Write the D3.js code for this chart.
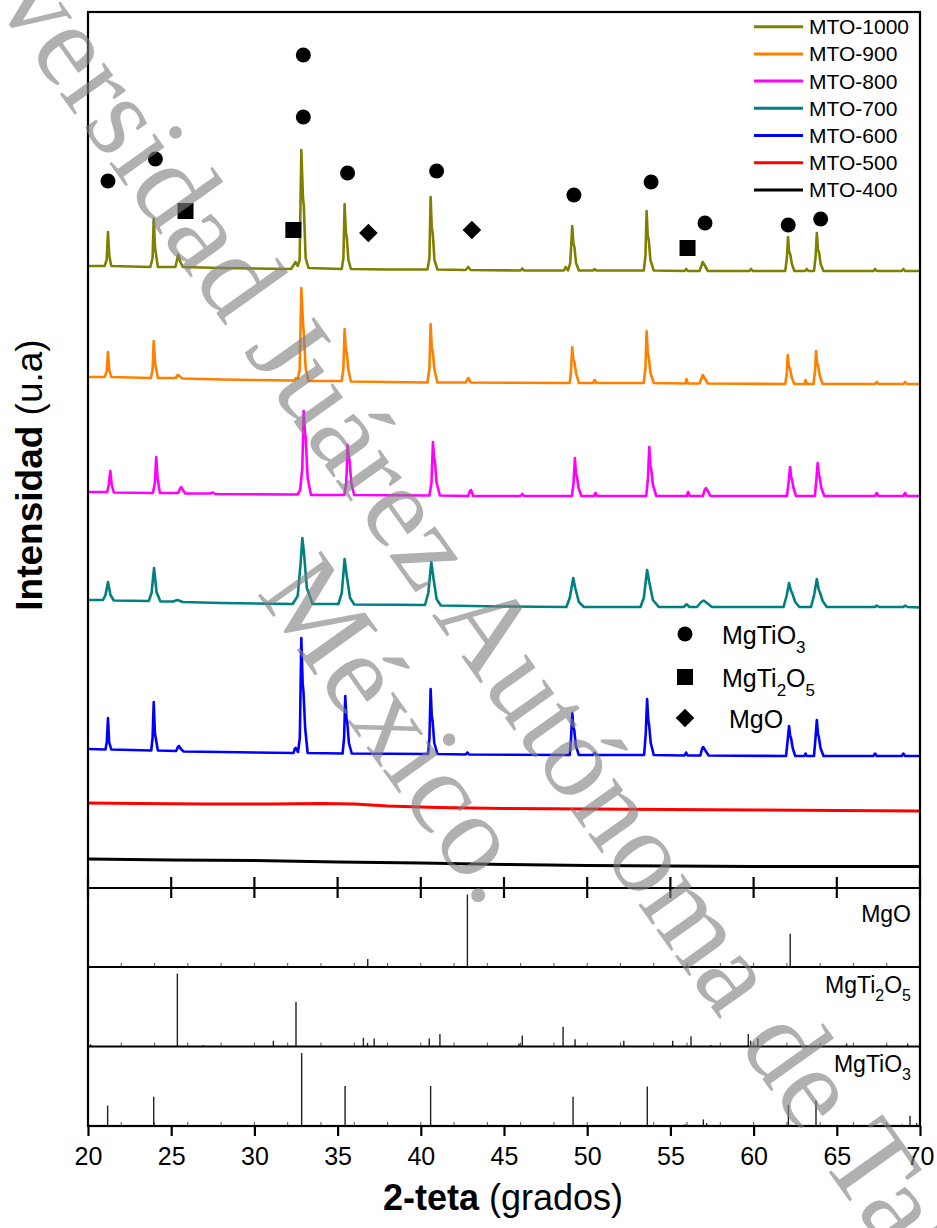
<!DOCTYPE html>
<html>
<head>
<meta charset="utf-8">
<script src="https://cdn.jsdelivr.net/npm/d3@7"></script>
<style>
  body { margin: 0; background: #fff; }
  svg { display: block; }
</style>
</head>
<body>
<div id="chart"></div>
<script>
// main traces: [2theta, intensity (a.u., stacked)]
const mto1000 = [[20,622],[21.0,622],[21.12,628],[21.2,656],[21.28,632],[21.4,622],
  [23.75,621],[23.88,630],[23.95,669],[24.03,640],[24.2,621],
  [25.25,621],[25.35,628],[25.42,633],[25.55,626],[25.7,621],
  [28,620],[32.2,619],[32.4,624],[32.47,626],[32.6,622],[32.72,628],[32.82,738],[32.92,690],[32.97,682],[33.08,630],[33.25,620],
  [35.25,619],[35.35,630],[35.42,684],[35.5,655],[35.55,651],[35.65,628],[35.8,619],
  [38,618.5],[40.4,618.5],[40.52,630],[40.59,691],[40.66,660],[40.72,655],[40.82,628],[41.0,618.5],
  [42.7,618],[42.85,621],[43,618],[46.0,617.5],[46.1,619.5],[46.2,617.5],[48.6,617.5],[48.7,621],[48.85,617.5],
  [48.98,625],[49.1,662],[49.17,645],[49.23,641],[49.33,625],[49.5,617.5],
  [50.35,617.5],[50.45,619],[50.55,617.5],
  [53.4,617.5],[53.5,632],[53.57,677],[53.64,652],[53.7,648],[53.8,628],[54.0,617.5],
  [55.85,617],[55.95,619],[56.05,617],[56.75,617],[56.88,623],[56.94,626],[57.05,623],[57.25,617],
  [59.75,617],[59.85,619],[59.95,617],
  [61.9,617],[62.0,630],[62.07,651],[62.14,636],[62.2,634],[62.3,624],[62.45,617],
  [63.1,617],[63.2,619],[63.3,617],
  [63.63,617],[63.73,632],[63.8,655],[63.87,638],[63.93,636],[64.03,624],[64.2,617],
  [67.2,617],[67.3,619],[67.4,617],[68.9,617],[69.0,619],[69.1,617],[70,617]];

const mto900 = [[20,511],[21.0,511],[21.12,516],[21.2,536],[21.28,518],[21.4,511],
  [23.78,510],[23.88,518],[23.95,547],[24.03,525],[24.2,510],
  [25.28,510],[25.38,513],[25.42,513],[25.55,511],[25.7,509.5],
  [28,508.5],[32.4,507.5],[32.5,510],[32.6,509],[32.72,518],[32.82,600],[32.92,565],[32.97,555],[33.08,520],[33.25,507],
  [35.25,507],[35.35,520],[35.42,559],[35.5,538],[35.55,535],[35.65,518],[35.8,506.5],
  [38,506],[40.4,505.5],[40.52,520],[40.59,564],[40.66,540],[40.72,536],[40.82,518],[41.0,505.5],
  [42.7,505.5],[42.85,510],[43,505.5],
  [48.95,505],[49.02,515],[49.1,541],[49.17,528],[49.23,526],[49.33,515],[49.5,505],
  [50.35,505],[50.45,508],[50.55,505],
  [53.4,505],[53.5,520],[53.57,557],[53.64,535],[53.7,531],[53.8,515],[54.0,505],
  [55.9,504.5],[55.97,509],[56.05,504.5],[56.75,504.5],[56.88,510],[56.95,513],[57.05,510],[57.25,504.5],
  [61.9,504],[62.0,515],[62.05,533],[62.12,522],[62.18,520],[62.3,510],[62.45,504],
  [63.05,504],[63.12,508],[63.2,504],
  [63.6,504],[63.7,518],[63.75,537],[63.82,525],[63.88,522],[63.98,512],[64.15,504],
  [67.3,504],[67.4,506],[67.5,504],[69,504],[69.1,506],[69.2,504],[70,504]];

const mto800 = [[20,396],[21.15,396],[21.25,403],[21.34,417],[21.43,403],[21.55,395.5],
  [23.9,395],[24.02,405],[24.1,431],[24.18,410],[24.32,395],
  [25.42,395],[25.52,399],[25.6,401],[25.7,398],[25.85,394.5],
  [27.35,394.5],[27.5,395.5],[27.65,394],
  [32.6,393.5],[32.75,398],[32.88,420],[32.96,477],[33.04,455],[33.08,451],[33.2,410],[33.4,393],
  [35.4,393],[35.52,405],[35.6,443],[35.67,432],[35.72,428],[35.82,405],[36.0,393],
  [40.52,392.5],[40.64,405],[40.73,446],[40.8,430],[40.85,426],[40.95,405],[41.15,392.5],
  [42.85,392],[42.95,397],[43.02,398],[43.15,392],
  [46.0,392],[46.1,394],[46.2,392],
  [49.08,392],[49.18,405],[49.26,430],[49.33,414],[49.38,412],[49.48,400],[49.65,392],
  [50.4,392],[50.5,395],[50.6,392],
  [53.55,392],[53.65,410],[53.73,441],[53.8,422],[53.85,419],[53.95,403],[54.15,392],
  [55.98,392],[56.07,396],[56.16,392],
  [56.95,392],[57.06,398],[57.14,400],[57.25,397],[57.4,392],
  [62.0,392],[62.1,405],[62.19,421],[62.26,411],[62.3,409],[62.4,400],[62.55,392],
  [63.68,392],[63.77,408],[63.85,425],[63.92,413],[63.97,411],[64.07,400],[64.25,392],
  [67.3,392],[67.4,395],[67.5,392],[69.0,392],[69.1,395],[69.2,392],[70,392]];

const mto700 = [[20,288],[20.9,288],[21.05,293],[21.2,306],[21.35,293],[21.55,287.5],
  [23.65,287],[23.82,295],[23.97,320],[24.12,296],[24.35,286.5],
  [25.1,286.5],[25.37,288],[25.7,286],
  [28,285],[32.3,284],[32.6,292],[32.78,325],[32.88,350],[32.98,335],[33.15,300],[33.5,284],
  [35.05,284],[35.25,295],[35.42,329],[35.55,312],[35.75,290],[36.0,283.5],
  [40.25,283],[40.45,295],[40.63,326],[40.76,310],[40.95,289],[41.2,282.5],
  [45,281.5],[48.75,281],[48.95,290],[49.16,310],[49.28,300],[49.5,286],[49.8,281],
  [53.2,281],[53.4,290],[53.6,318],[53.73,306],[53.95,288],[54.3,281],
  [55.8,281],[55.97,283.7],[56.15,281],[56.6,281],[56.85,286],[57.0,287.5],[57.2,285],[57.5,281],
  [61.8,281],[61.98,292],[62.13,305],[62.25,297],[62.32,295],[62.5,286],[62.75,281],
  [63.45,281],[63.65,294],[63.8,309],[63.92,298],[63.98,296],[64.15,287],[64.4,281],
  [67.3,281],[67.4,282.5],[67.55,281],[69,281],[69.1,282.5],[69.25,281],[70,280.5]];

const mto600 = [[20,139],[21.05,138.5],[21.13,146],[21.2,170],[21.27,146],[21.4,138.5],
  [23.8,137.5],[23.88,150],[23.95,186],[24.02,155],[24.2,137.5],
  [25.3,137],[25.4,141],[25.47,142],[25.58,139],[25.75,136.5],
  [28,136],[32.35,135],[32.42,139],[32.48,140],[32.62,136],[32.73,150],[32.82,250],[32.9,205],[32.95,196],[33.05,160],[33.2,135],
  [35.3,134.5],[35.39,150],[35.46,192],[35.53,170],[35.58,166],[35.68,145],[35.85,134.5],
  [40.44,134],[40.52,150],[40.59,199],[40.66,172],[40.71,167],[40.81,145],[41.0,134],
  [42.7,133.5],[42.8,135.5],[42.9,133.5],
  [48.95,133],[49.03,150],[49.1,175],[49.17,161],[49.22,158],[49.32,142],[49.5,133],
  [50.35,133],[50.45,135],[50.55,133],
  [53.42,133],[53.52,155],[53.6,189],[53.67,168],[53.72,163],[53.82,145],[54.0,133],
  [55.85,132.5],[55.94,135.5],[56.03,132.5],[56.8,132.5],[56.9,139],[56.97,141],[57.08,138],[57.3,132.5],
  [61.95,132],[62.05,148],[62.13,162],[62.2,152],[62.25,150],[62.35,140],[62.5,132],
  [63.05,132],[63.12,134.5],[63.2,132],
  [63.63,132],[63.72,150],[63.8,168],[63.87,154],[63.92,151],[64.02,140],[64.2,132],
  [67.2,132],[67.3,134.5],[67.4,132],[68.9,132],[69.0,134.5],[69.1,132],[70,132]];

const mto500 = [[20,85],[23,84.5],[27,84],[31,84],[34,84.5],[36,84],[38,82],[41,80.5],
  [45,79.5],[50,79],[55,78.5],[60,78],[65,77.5],[70,77]];

const mto400 = [[20,29],[25,28],[30,27.5],[35,26],[40,25],[45,23.5],[50,22.5],
  [55,22],[60,21.5],[65,21.5],[70,21.5]];

const seriesNames = ["MTO-1000", "MTO-900", "MTO-800", "MTO-700", "MTO-600", "MTO-500", "MTO-400"];
const seriesData = [mto1000, mto900, mto800, mto700, mto600, mto500, mto400];
const seriesColors = ["#808000", "#ff8000", "#ff00ff", "#008080", "#0000ff", "#ff0000", "#000000"];

// phase markers above the MTO-1000 pattern: [2theta, intensity]
const circleMarks = [[21.2,707],[24.05,729],[32.94,833],[32.94,771],[35.6,715],[40.95,717],
  [49.2,693],[53.84,706],[57.08,665],[62.08,663],[64.03,669]];
const squareMarks = [[25.86,677],[32.34,658],[56.03,640]];
const diamondMarks = [[36.85,655],[43.07,658]];

// reference patterns: [2theta, relative intensity]
const mgoRef = [[36.81,11],[42.8,100],[62.2,46]];
const mgti2o5Ref = [[20.16,3],[25.37,100],[26.93,2],[31.14,8],[32.5,61],[36.55,12],[36.8,5],[37.2,11],
  [40.51,11],[41.15,17],[45.9,4],[46.1,15],[48.55,27],[49.27,10],[52.2,8],[55.14,8],[56.24,14],
  [57.44,2],[59.68,17],[59.82,8],[60.26,11],[65.59,4],[68.0,2],[69.26,4]];
const mgtio3Ref = [[21.18,28],[23.95,40],[32.84,100],[35.45,55],[40.59,55],[49.15,40],[53.61,54],
  [55.88,2],[56.98,9],[57.18,4],[62.09,29],[63.75,35],[68.9,2],[69.4,14],[69.8,4]];

const xTicks = [20, 25, 30, 35, 40, 45, 50, 55, 60, 65, 70];

const W = 937, H = 1228;
const plotLeft = 88, plotRight = 920, plotTop = 12, mainBottom = 888;
const panelEdges = [888, 967, 1046.5, 1126];
const font = "'Liberation Sans', Arial, sans-serif";

const svg = d3.select("#chart").append("svg")
  .attr("width", W)
  .attr("height", H)
  .style("font-family", font);

const x = d3.scaleLinear().domain([20, 70]).range([plotLeft, plotRight]);
const y = d3.scaleLinear().domain([0, 876]).range([mainBottom, plotTop]);

// traces
const line = d3.line().x(d => x(d[0])).y(d => y(d[1]));
seriesData.forEach(function (data, i) {
  svg.append("path")
    .datum(data)
    .attr("d", line)
    .attr("fill", "none")
    .attr("stroke", seriesColors[i])
    .attr("stroke-width", i >= 5 ? 3 : 2.6)
    .attr("stroke-linejoin", "round");
});

// phase markers
svg.selectAll(".circ").data(circleMarks).enter().append("circle")
  .attr("cx", d => x(d[0])).attr("cy", d => y(d[1])).attr("r", 7.5).attr("fill", "#000");
svg.selectAll(".sq").data(squareMarks).enter().append("rect")
  .attr("x", d => x(d[0]) - 8).attr("y", d => y(d[1]) - 8)
  .attr("width", 16).attr("height", 16).attr("fill", "#000");
svg.selectAll(".dia").data(diamondMarks).enter().append("path")
  .attr("d", d3.symbol().type(d3.symbolDiamond2).size(220))
  .attr("transform", d => "translate(" + x(d[0]) + "," + y(d[1]) + ")")
  .attr("fill", "#000");

// series legend
const legend = svg.append("g");
seriesNames.forEach(function (name, i) {
  const ly = 26.7 + i * 27.2;
  legend.append("line")
    .attr("x1", 754).attr("x2", 803).attr("y1", ly).attr("y2", ly)
    .attr("stroke", seriesColors[i]).attr("stroke-width", 3);
  legend.append("text")
    .attr("x", 809).attr("y", ly + 7.5)
    .style("font-size", "21px")
    .text(name);
});

function addParts(t, parts, subSize, subShift) {
  let shifted = false;
  parts.forEach(function (pt) {
    const ts = t.append("tspan").text(pt[0]);
    if (pt[1] && !shifted) { ts.attr("dy", subShift).style("font-size", subSize + "px"); shifted = true; }
    else if (pt[1]) { ts.style("font-size", subSize + "px"); }
    else if (!pt[1] && shifted) { ts.attr("dy", -subShift); shifted = false; }
  });
}

// phase legend
const phaseLegend = [
  {kind: "circle", y: 634, parts: [["MgTiO", 0], ["3", 1]], tx: 722},
  {kind: "square", y: 677, parts: [["MgTi", 0], ["2", 1], ["O", 0], ["5", 1]], tx: 722},
  {kind: "diamond", y: 718, parts: [["MgO", 0]], tx: 729}
];
phaseLegend.forEach(function (p) {
  if (p.kind === "circle") {
    svg.append("circle").attr("cx", 685).attr("cy", p.y).attr("r", 7.5).attr("fill", "#000");
  } else if (p.kind === "square") {
    svg.append("rect").attr("x", 677).attr("y", p.y - 8).attr("width", 16).attr("height", 16).attr("fill", "#000");
  } else {
    svg.append("path").attr("d", d3.symbol().type(d3.symbolDiamond2).size(220))
      .attr("transform", "translate(685," + p.y + ")").attr("fill", "#000");
  }
  const t = svg.append("text").attr("x", p.tx).attr("y", p.y + 10).style("font-size", "25px");
  addParts(t, p.parts, 17, 9);
});

// reference stick panels
const panels = [
  {data: mgoRef, parts: [["MgO", 0]], ty: 922},
  {data: mgti2o5Ref, parts: [["MgTi", 0], ["2", 1], ["O", 0], ["5", 1]], ty: 993},
  {data: mgtio3Ref, parts: [["MgTiO", 0], ["3", 1]], ty: 1072}
];
panels.forEach(function (p, i) {
  const y0 = panelEdges[i], y1 = panelEdges[i + 1];
  const ys = d3.scaleLinear().domain([0, 109]).range([y1, y0]);
  svg.append("g").selectAll("line").data(p.data).enter().append("line")
    .attr("x1", d => x(d[0])).attr("x2", d => x(d[0]))
    .attr("y1", ys(0)).attr("y2", d => ys(d[1]))
    .attr("stroke", "#222").attr("stroke-width", 1.4);
  const t = svg.append("text").attr("x", 911).attr("y", p.ty)
    .attr("text-anchor", "end").style("font-size", "23px");
  addParts(t, p.parts, 16, 8);
  // small minor ticks on the panel floor
  svg.append("g").selectAll("line").data(x.ticks(20)).enter().append("line")
    .attr("x1", d => x(d)).attr("x2", d => x(d))
    .attr("y1", y1).attr("y2", y1 - 4)
    .attr("stroke", "#555").attr("stroke-width", 1);
});

// frame
const frame = svg.append("g").attr("stroke", "#000").attr("stroke-width", 2.2).attr("fill", "none");
frame.append("rect").attr("x", plotLeft).attr("y", plotTop)
  .attr("width", plotRight - plotLeft).attr("height", panelEdges[3] - plotTop);
panelEdges.slice(0, 3).forEach(function (py) {
  frame.append("line").attr("x1", plotLeft).attr("x2", plotRight).attr("y1", py).attr("y2", py);
});

// major ticks crossing the boundary between main plot and reference panels
svg.append("g").selectAll("line").data(xTicks).enter().append("line")
  .attr("x1", d => x(d)).attr("x2", d => x(d))
  .attr("y1", mainBottom - 11).attr("y2", mainBottom + 10)
  .attr("stroke", "#000").attr("stroke-width", 2.2);

// bottom axis
const xAxis = svg.append("g")
  .attr("transform", "translate(0," + panelEdges[3] + ")")
  .call(d3.axisBottom(x).tickValues(xTicks).tickSize(10).tickFormat(d3.format("d")));
xAxis.select(".domain").remove();
xAxis.selectAll(".tick line").attr("stroke-width", 2.2);
xAxis.selectAll(".tick text")
  .attr("y", 39).attr("dy", 0)
  .style("font-size", "25px").style("font-family", font).attr("fill", "#000");

// axis titles
const xt = svg.append("text").attr("x", 503).attr("y", 1210).attr("text-anchor", "middle")
  .style("font-size", "36px");
xt.append("tspan").style("font-weight", "bold").text("2-teta");
xt.append("tspan").text(" (grados)");

const yt = svg.append("text").attr("transform", "translate(42,475) rotate(-90)")
  .attr("text-anchor", "middle").style("font-size", "37px");
yt.append("tspan").style("font-weight", "bold").text("Intensidad");
yt.append("tspan").text(" (u.a)");

// watermark
const wm = svg.append("g")
  .attr("transform", "translate(475,676) rotate(54.5)")
  .style("font-family", "'Liberation Serif', 'Times New Roman', serif")
  .style("font-size", "118px")
  .attr("fill", "#808080").attr("fill-opacity", 0.62)
  .attr("text-anchor", "middle")
  .style("pointer-events", "none");
wm.append("text").attr("x", 0).attr("y", 0).text("Universidad Juárez Autónoma de Tabasco,");
wm.append("text").attr("x", 0).attr("y", 130).text("México.");
</script>
</body>
</html>
